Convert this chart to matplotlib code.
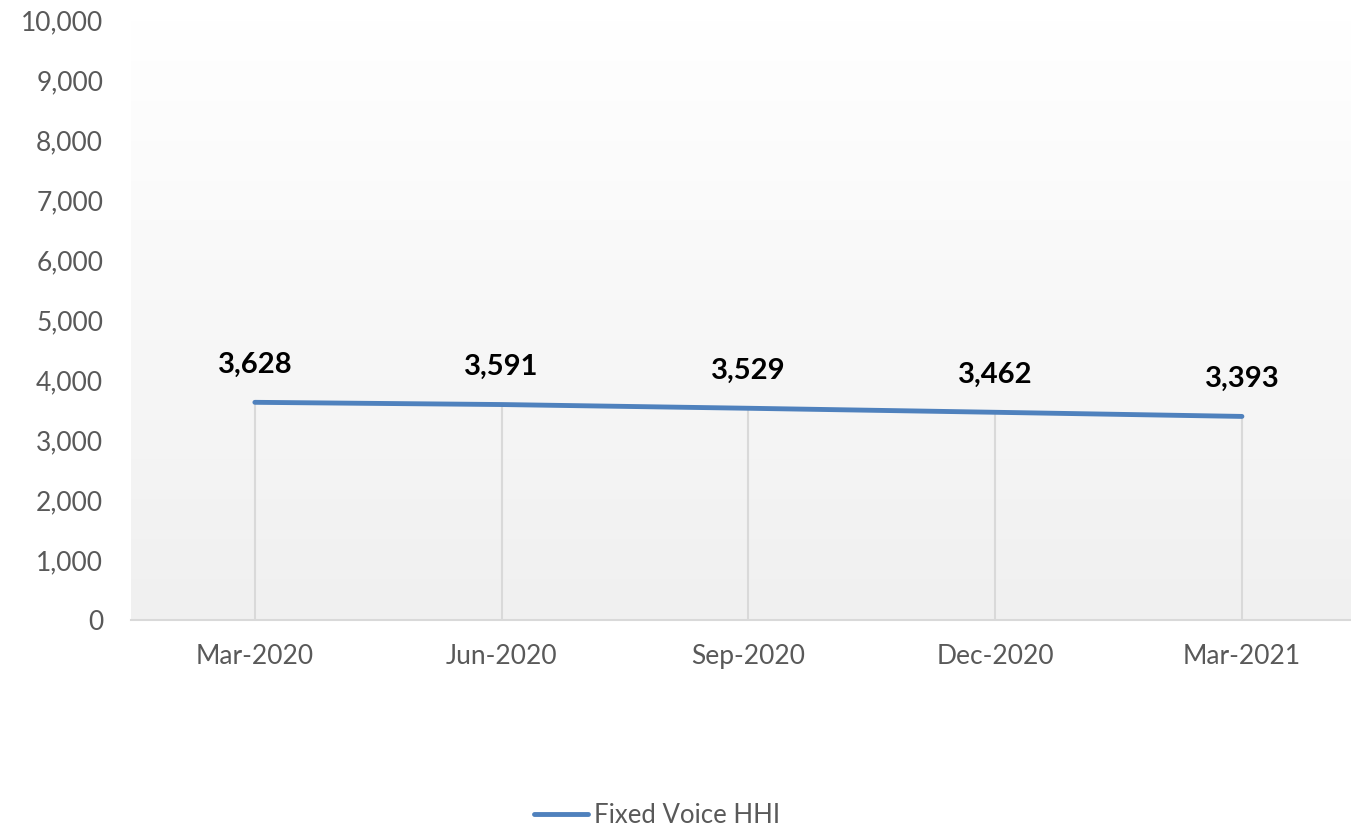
import numpy as np
import matplotlib
matplotlib.use('Agg')
import matplotlib.pyplot as plt
from matplotlib.colors import LinearSegmentedColormap
from matplotlib.ticker import FuncFormatter

# quarterly HHI for fixed voice
quarters = ["Mar-2020", "Jun-2020", "Sep-2020", "Dec-2020", "Mar-2021"]
hhi = [3628, 3591, 3529, 3462, 3393]
series_name = "Fixed Voice HHI"

plt.rcParams['font.family'] = ['Lato', 'DejaVu Sans']

fig = plt.figure(figsize=(13.51, 8.30), dpi=100)
ax = fig.add_axes([131 / 1351, 1 - 620 / 830, 1220 / 1351, 600 / 830])

x = np.arange(len(quarters))

# soft vertical gradient behind the plot
grad = LinearSegmentedColormap.from_list("bg", ["#f0f0f0", "#ffffff"])
ax.imshow(np.linspace(0, 1, 256).reshape(-1, 1), cmap=grad, aspect='auto',
          origin='lower', extent=[0, 1, 0, 1], transform=ax.transAxes, zorder=0)

# drop lines from each point to the axis
ax.vlines(x, 0, hhi, color="#d9d9d9", linewidth=1.5, zorder=1)

line, = ax.plot(x, hhi, color="#4f81bd", linewidth=3.5, solid_capstyle='round',
                zorder=3, label=series_name)

for xi, v in zip(x, hhi):
    ax.annotate("{:,}".format(v), (xi, v), xytext=(0, 27), textcoords='offset points',
                ha='center', va='center', fontsize=21, fontweight='bold', color='black')

ax.set_xlim(-0.502, 4.442)
ax.set_ylim(0, 10000)
ax.set_yticks(np.arange(0, 10001, 1000))
ax.yaxis.set_major_formatter(FuncFormatter(lambda v, p: "{:,}".format(int(v))))
ax.set_xticks(x)
ax.set_xticklabels(quarters)

for s in ['top', 'right', 'left']:
    ax.spines[s].set_visible(False)
ax.spines['bottom'].set_color("#d9d9d9")
ax.spines['bottom'].set_linewidth(1.5)
ax.spines['bottom'].set_zorder(2)

ax.tick_params(axis='both', length=0, labelsize=19, colors="#595959")
ax.tick_params(axis='y', pad=20)
ax.tick_params(axis='x', pad=17)

fig.legend(handles=[line], loc='center', bbox_to_anchor=(657 / 1351, 1 - 815 / 830),
           frameon=False, fontsize=18.5, handlelength=2.1, handletextpad=0.25,
           labelcolor="#595959")

fig.savefig("out.png", dpi=100)
